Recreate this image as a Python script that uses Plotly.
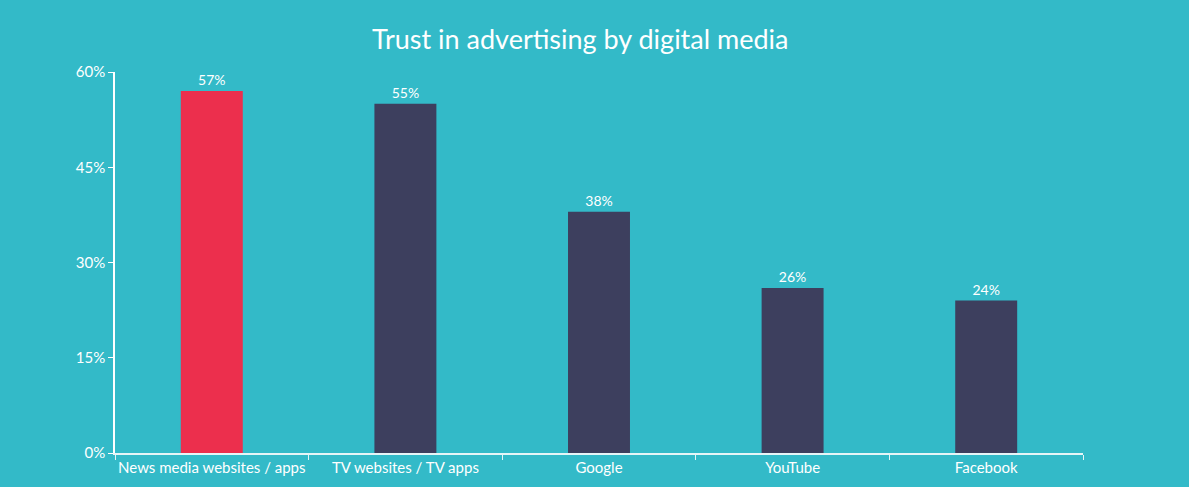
import plotly.graph_objects as go

categories = ["News media websites / apps", "TV websites / TV apps", "Google", "YouTube", "Facebook"]
values = [57, 55, 38, 26, 24]
labels = ["57%", "55%", "38%", "26%", "24%"]
colors = ["#EC2F4D", "#3D3F5E", "#3D3F5E", "#3D3F5E", "#3D3F5E"]

bg = "#33BAC8"
font_family = "Lato, Noto Sans, sans-serif"

fig = go.Figure(go.Bar(
    x=categories, y=values, marker_color=colors, marker_line_width=0,
    text=labels, textposition="outside", cliponaxis=False,
    textfont=dict(color="white", size=14, family=font_family),
    width=0.32,
))

fig.update_layout(
    width=1189, height=487,
    paper_bgcolor=bg, plot_bgcolor=bg,
    margin=dict(l=115, r=106, t=72, b=34),
    title=dict(text="Trust in advertising by digital media", x=0.488, xanchor="center",
               y=0.918, yanchor="middle",
               font=dict(color="white", size=27, family=font_family)),
    showlegend=False,
    font=dict(color="white", family=font_family, size=15),
)
fig.update_xaxes(
    showline=True, linecolor="#E6F5F7", linewidth=1.5,
    ticks="outside", tickson="boundaries", ticklen=5, tickcolor="#E6F5F7",
    showgrid=False, tickfont=dict(size=15, color="white"),
    tickangle=0, automargin=False,
)
fig.update_yaxes(
    range=[0, 60], tickvals=[0, 15, 30, 45, 60], ticktext=["0%", "15%", "30%", "45%", "60%"],
    showline=True, linecolor="white", linewidth=1.5,
    ticks="outside", ticklen=5, tickcolor="white",
    showgrid=False, zeroline=False, tickfont=dict(size=15, color="white"),
    automargin=False,
)

fig.write_html(
    "out.html",
    config={"displayModeBar": False},
    post_script="document.body.style.margin='0';document.body.style.overflow='hidden';",
)
